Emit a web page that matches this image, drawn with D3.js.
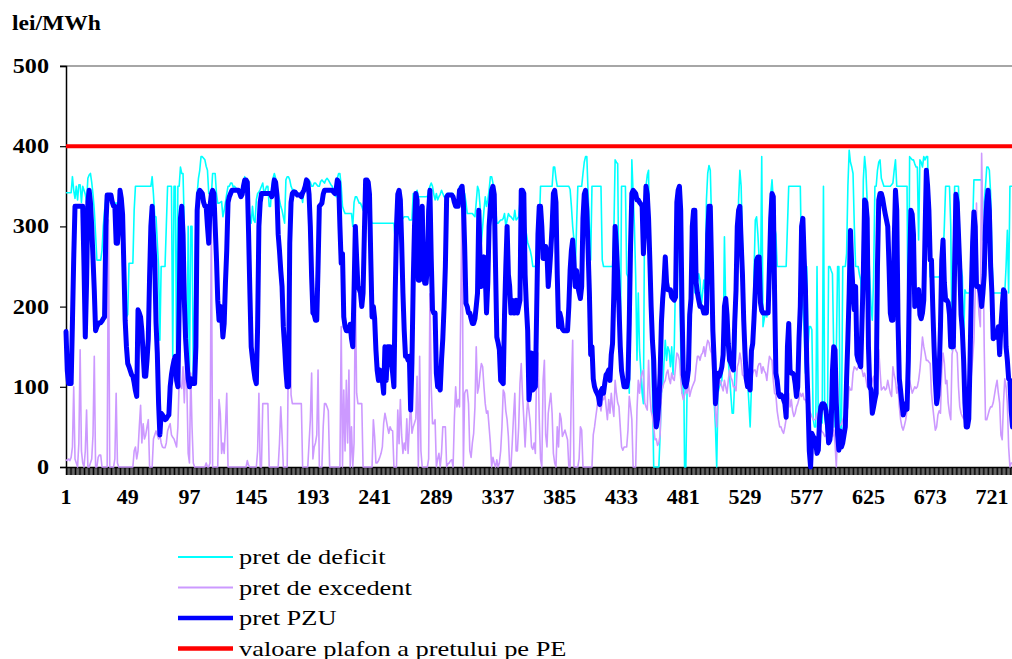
<!DOCTYPE html>
<html><head><meta charset="utf-8">
<script src="https://cdn.jsdelivr.net/npm/d3@7"></script>
<style>
html,body{margin:0;padding:0;background:#fff;overflow:hidden}
svg{display:block}
text{font-family:"Liberation Serif","Times New Roman",serif;fill:#000}
</style></head><body>
<svg id="chart" width="1012" height="659"></svg>
<script>
// hourly values (lei/MWh), hours 1..737 visible
const pretPZU = [169,120,104,104,104,180,260,325,325,325,
325,325,325,325,250,162,230,330,345,330,
300,260,220,170,175,178,180,180,182,185,
187,300,339,339,339,339,330,325,325,279,
279,300,345,335,315,250,183,150,129,125,
120,115,113,105,95,88,196,192,187,170,
140,113,113,133,160,237,300,325,290,258,
180,142,79,40,67,65,62,59,60,63,
65,100,115,125,133,
138,108,100,200,310,325,290,208,160,133,
110,100,110,104,104,104,150,320,341,345,
343,341,330,325,325,300,279,325,340,345,
341,300,260,208,183,200,190,162,179,230,
270,330,337,341,345,345,345,345,345,345,
342,337,340,350,358,358,355,290,217,150,
135,121,110,104,175,300,330,341,341,341,
341,341,341,341,341,337,345,358,355,340,
290,270,245,225,175,150,120,100,100,279,
330,341,343,343,
341,339,339,339,337,342,345,350,358,355,
340,300,237,192,190,183,183,250,325,327,
329,340,345,345,345,345,345,345,345,343,
341,345,358,355,300,254,266,187,175,170,
170,170,178,160,150,221,300,260,225,222,
217,200,217,290,358,358,355,340,260,187,
200,185,146,120,108,121,108,108,92,150,
108,150,150,150,130,117,100,217,300,340,
345,333,280,217,170,138,138,133,138,71,
130,230,300,
341,333,233,233,300,325,240,229,229,250,
320,345,260,196,192,192,117,100,100,96,
133,160,200,250,337,339,339,339,339,337,
330,325,325,325,345,347,350,330,275,204,
200,192,192,185,179,179,185,200,217,320,
258,225,240,262,241,192,230,300,325,345,
350,340,250,162,155,146,108,106,104,190,
250,300,240,225,192,208,192,192,208,192,
200,208,345,345,341,240,200,170,84,100,
142,96,98,
100,196,290,325,325,300,260,260,275,266,
225,245,270,300,341,345,330,240,175,192,
185,172,170,170,170,170,200,245,270,283,
255,225,245,225,217,210,225,310,340,345,
320,270,217,140,150,110,100,95,92,88,
78,95,98,92,105,115,117,121,108,140,
154,217,300,275,240,200,150,120,110,100,
100,100,110,180,275,341,345,343,341,333,
333,330,328,325,266,300,350,340,310,258,
200,158,133,75,
50,60,80,117,180,210,230,262,230,221,
221,221,212,210,208,212,330,345,350,320,
200,115,104,100,108,121,190,210,300,320,
320,230,217,208,200,200,198,192,192,192,
290,325,325,250,170,133,79,100,117,113,
118,125,140,200,210,190,154,133,130,125,
121,180,220,300,320,325,280,241,183,142,
110,100,104,96,145,154,185,220,258,262,
262,205,195,192,192,192,192,192,250,310,
341,337,217,
117,108,92,88,90,88,84,79,62,150,
179,121,117,117,115,104,88,100,160,200,
300,310,260,221,130,80,20,0,42,38,
36,30,17,21,60,75,79,79,77,70,
55,30,34,50,120,150,146,80,40,21,
45,25,30,40,50,110,160,217,295,250,
220,196,225,140,133,130,125,183,240,333,
330,310,150,100,96,67,75,84,92,250,
333,341,341,335,325,316,308,300,250,192,
183,183,280,
345,320,180,110,95,79,65,70,79,72,
133,250,320,315,290,200,210,219,221,190,
185,192,208,290,370,350,320,258,258,200,
150,108,79,90,120,175,258,283,230,208,
208,205,190,150,150,150,250,340,330,290,
250,190,170,133,80,50,50,60,133,217,
280,318,300,225,225,225,217,200,217,240,
300,330,345,320,250,217,160,167,162,165,
175,140,175,200,221,218,150,133,110,108,
70,50];

const pretDeficit = [342,342,342,342,342,362,345,335,350,333,
352,352,330,350,345,340,330,360,364,366,
355,340,320,290,258,258,258,258,270,300,
320,335,339,339,339,339,330,329,329,329,
329,330,330,330,320,254,200,187,190,254,
254,254,254,320,350,350,350,350,350,350,
350,350,350,350,350,350,350,362,340,312,
312,280,250,158,250,250,250,250,300,350,
350,350,350,138,350,
350,133,350,350,374,366,366,300,200,108,
300,108,300,300,108,200,300,341,360,370,
387,387,385,383,375,370,341,341,337,366,
366,366,341,329,329,330,331,312,320,330,
341,350,350,354,354,349,350,348,347,346,
346,346,346,355,362,358,354,320,312,304,
325,308,305,333,341,343,346,350,354,341,
345,350,350,325,325,350,360,366,360,346,
340,333,325,320,312,304,358,362,362,358,
350,346,346,344,
341,341,341,341,341,330,345,358,358,358,
358,355,350,350,354,354,352,350,350,356,
358,356,354,358,360,358,355,352,350,345,
340,337,360,366,366,350,325,320,316,316,
316,316,316,316,300,330,337,337,333,329,
329,325,320,340,358,354,350,320,308,304,
304,304,304,304,304,304,304,304,304,304,
304,304,304,304,304,304,304,283,308,308,
308,308,310,310,312,312,312,312,308,308,
308,341,330,
341,345,337,337,337,337,337,337,337,337,
345,350,354,350,340,333,341,333,337,340,
345,341,337,337,341,341,341,341,341,341,
325,325,325,325,350,350,345,341,341,330,
316,316,316,316,316,314,312,330,350,345,
325,280,300,320,337,325,333,345,362,362,
354,340,325,304,304,306,308,308,310,316,
300,308,316,313,312,310,308,320,308,310,
312,330,341,337,333,300,291,280,275,270,
262,250,250,
250,258,250,300,350,350,350,350,350,350,
350,350,350,350,374,374,360,350,350,350,
350,350,350,350,350,350,350,346,325,300,
283,241,300,350,350,350,350,366,380,387,
387,341,300,258,350,350,350,350,350,350,
350,350,258,250,250,250,250,250,250,250,
250,291,383,380,378,200,133,350,350,350,
350,241,237,92,225,383,341,300,237,133,
217,146,120,92,79,340,350,364,370,258,
200,100,0,0,
0,0,0,40,92,100,130,158,133,150,
145,125,150,115,150,240,300,335,250,150,
92,183,0,0,100,187,192,225,250,241,
217,221,231,241,233,200,217,233,217,333,
366,376,370,308,154,84,50,0,92,100,
104,108,142,287,200,154,133,113,90,67,
67,110,170,250,333,370,350,280,217,154,
120,108,80,50,100,150,240,308,312,290,
260,217,387,175,185,192,187,225,300,340,
358,333,300,
290,250,250,250,250,250,250,250,250,300,
350,350,350,350,350,350,350,350,350,350,
250,200,170,117,250,150,175,175,171,60,
50,50,250,50,71,60,55,350,60,50,
30,250,250,245,241,142,50,142,250,250,
50,42,250,250,250,266,350,395,380,374,
366,300,250,250,250,240,233,192,358,387,
370,330,275,237,200,183,237,350,350,370,
380,383,360,355,350,350,350,350,350,350,
352,354,370,
383,350,350,350,350,350,350,350,350,350,
108,387,385,383,383,378,374,374,283,383,
380,374,387,383,387,387,300,237,237,237,
237,237,237,237,237,240,275,260,300,350,
350,350,350,300,146,250,350,350,350,350,
275,250,237,154,221,217,217,217,217,217,
300,358,358,358,358,358,358,358,283,330,
350,374,374,370,341,266,217,217,217,217,
217,217,217,217,221,217,250,295,217,350,
350,350];

const pretExcedent = [9,8,10,8,12,25,100,10,5,0,
30,146,20,5,0,20,71,0,0,5,
10,40,138,0,0,12,15,15,0,0,
0,0,0,308,0,0,0,0,10,92,
5,0,0,0,0,0,0,0,0,0,
0,0,0,20,25,10,20,50,77,30,
54,35,40,50,59,0,0,0,35,40,
45,40,35,40,30,25,24,24,30,45,
50,54,40,37,35,
30,25,50,108,100,98,125,80,125,100,
17,5,117,50,5,0,0,0,0,0,
0,0,0,0,5,0,0,5,308,0,
0,0,0,0,84,67,17,30,17,50,
92,0,0,0,0,0,0,0,0,0,
0,0,0,0,0,0,8,2,0,0,
0,0,0,0,20,92,0,0,79,79,
79,79,79,0,0,0,0,0,0,0,
0,30,75,40,0,0,0,0,150,325,
90,79,79,79,
79,79,79,79,79,0,0,0,0,0,
30,59,117,10,25,30,40,121,0,0,
0,50,79,79,75,70,0,0,0,0,
0,0,0,0,0,175,0,96,20,108,
30,121,0,50,0,30,221,92,79,79,
79,79,0,0,0,0,0,0,0,0,
59,38,5,5,8,12,17,25,54,67,
59,50,42,50,46,45,0,0,0,71,
29,84,40,17,30,21,60,17,50,84,
42,50,55,
60,113,0,138,20,0,0,0,0,0,
10,216,100,54,54,59,0,10,17,0,
17,50,50,50,0,4,5,8,9,0,
60,100,75,84,75,200,345,0,92,96,
96,79,20,12,30,42,75,150,92,100,
117,129,125,100,79,67,70,50,30,0,
12,5,0,9,0,5,20,50,96,92,
70,59,38,0,0,30,63,92,20,20,
50,104,129,90,60,25,60,84,70,55,
25,22,30,
17,133,142,60,10,0,108,133,40,25,
67,80,92,67,17,5,0,50,25,67,
60,38,42,46,40,34,0,0,100,158,
0,0,0,0,10,50,46,0,0,0,
0,0,0,0,0,40,50,63,75,92,
79,70,84,84,92,75,59,84,67,92,
75,63,108,92,80,75,50,25,21,25,
25,25,46,88,75,59,0,0,0,71,
108,92,110,117,121,80,75,71,133,92,
70,63,50,34,
35,27,30,40,92,100,105,108,117,121,
110,104,117,110,108,125,142,140,133,110,
92,84,90,96,92,104,88,95,100,104,
108,125,138,138,133,140,142,150,138,150,
158,155,146,142,120,113,67,50,100,104,
108,100,95,108,100,92,108,121,112,108,
100,100,95,125,130,142,133,115,113,108,
100,100,96,108,108,117,121,121,113,125,
129,129,117,125,120,117,108,125,138,135,
133,108,92,
90,70,59,50,50,45,42,50,60,67,
92,75,84,70,63,67,75,79,85,92,
88,92,84,84,79,75,70,67,63,59,
59,60,67,54,50,46,44,42,38,40,
42,50,42,40,38,46,30,0,46,50,
52,54,59,63,63,67,75,100,96,96,
117,125,123,121,125,125,123,121,113,117,
110,100,108,96,100,108,113,92,92,110,
146,120,96,98,100,96,98,108,100,92,
88,125,115,
108,92,100,75,59,50,46,52,59,71,
100,108,100,92,96,100,98,100,108,121,
140,162,150,142,133,133,131,129,92,75,
60,46,50,65,70,67,120,142,130,104,
108,80,67,59,140,150,150,145,142,100,
75,67,63,60,65,75,70,67,90,115,
135,158,217,329,217,190,175,391,300,150,
59,59,65,71,75,75,80,90,100,108,
92,80,40,34,80,110,100,79,25,0,
5,5];

const plafonPE = 400;
const hourCount = 744;
const xTickLabels = [1,49,97,145,193,241,289,337,385,433,481,529,577,625,673,721];
const yTickValues = [0,100,200,300,400,500];
const legendItems = ["pret de deficit","pret de excedent","pret PZU","valoare plafon a pretului pe PE"];
const legendColors = ["#00FFFF","#CC99FF","#0000FF","#FF0000"];
const legendWidths = [2,2,4.5,4.5];

const W = 1012, H = 659;
const svg = d3.select("#chart");
const x = d3.scaleLinear().domain([1, hourCount]).range([66, 66 + (hourCount - 1) * 1.286]);
const y = d3.scaleLinear().domain([0, 500]).range([467, 66]);

function txt(xp, yp, s, size, weight, anchor, sx) {
  svg.append("text")
    .attr("transform", `translate(${xp},${yp}) scale(${sx},1)`)
    .attr("text-anchor", anchor)
    .style("font-size", size + "px")
    .style("font-weight", weight)
    .text(s);
}

// top border / gridline at 500
svg.append("line").attr("x1", 60).attr("x2", W).attr("y1", y(500)).attr("y2", y(500))
  .attr("stroke", "#888").attr("stroke-width", 1.5);

// x axis with a tick at every hour
const xAxis = d3.axisBottom(x).tickValues(d3.range(1, hourCount + 1)).tickSize(8).tickFormat("");
const gx = svg.append("g").attr("transform", `translate(0,${y(0)})`).call(xAxis);
gx.select(".domain").attr("stroke", "#000").attr("stroke-width", 1.5);
gx.selectAll(".tick line").attr("stroke", "#000").attr("stroke-width", 1);

// y axis
const yAxis = d3.axisLeft(y).tickValues(yTickValues).tickSize(6).tickFormat("");
const gy = svg.append("g").attr("transform", `translate(${x(1)},0)`).call(yAxis);
gy.select(".domain").attr("stroke", "#000").attr("stroke-width", 1.5);
gy.selectAll(".tick line").attr("stroke", "#000").attr("stroke-width", 1.2);

yTickValues.forEach(v => txt(49, y(v) + 7, String(v), 21, "bold", "end", 1.15));
xTickLabels.forEach(v => txt(x(v), 504, String(v), 22, "bold", "middle", 1.0));
txt(12, 30, "lei/MWh", 22, "bold", "start", 1.07);

const line = d3.line().x((d, i) => x(i + 1)).y(d => y(d));
const plot = svg.append("g");
plot.append("path").datum(pretDeficit).attr("d", line).attr("fill", "none")
  .attr("stroke", legendColors[0]).attr("stroke-width", 1.6).attr("stroke-linejoin", "round");
plot.append("path").datum(pretExcedent).attr("d", line).attr("fill", "none")
  .attr("stroke", legendColors[1]).attr("stroke-width", 1.6).attr("stroke-linejoin", "round");
plot.append("path").datum(pretPZU).attr("d", line).attr("fill", "none")
  .attr("stroke", legendColors[2]).attr("stroke-width", 5).attr("stroke-linejoin", "round").attr("stroke-linecap", "round");
plot.append("line").attr("x1", x(1)).attr("x2", W).attr("y1", y(plafonPE)).attr("y2", y(plafonPE))
  .attr("stroke", legendColors[3]).attr("stroke-width", 4);

// legend
legendItems.forEach((s, i) => {
  const ly = 557 + i * 30.5;
  svg.append("line").attr("x1", 178).attr("x2", 233).attr("y1", ly).attr("y2", ly)
    .attr("stroke", legendColors[i]).attr("stroke-width", legendWidths[i]);
  txt(239, ly + 7, s, 22, "normal", "start", 1.2);
});
</script>
</body></html>
